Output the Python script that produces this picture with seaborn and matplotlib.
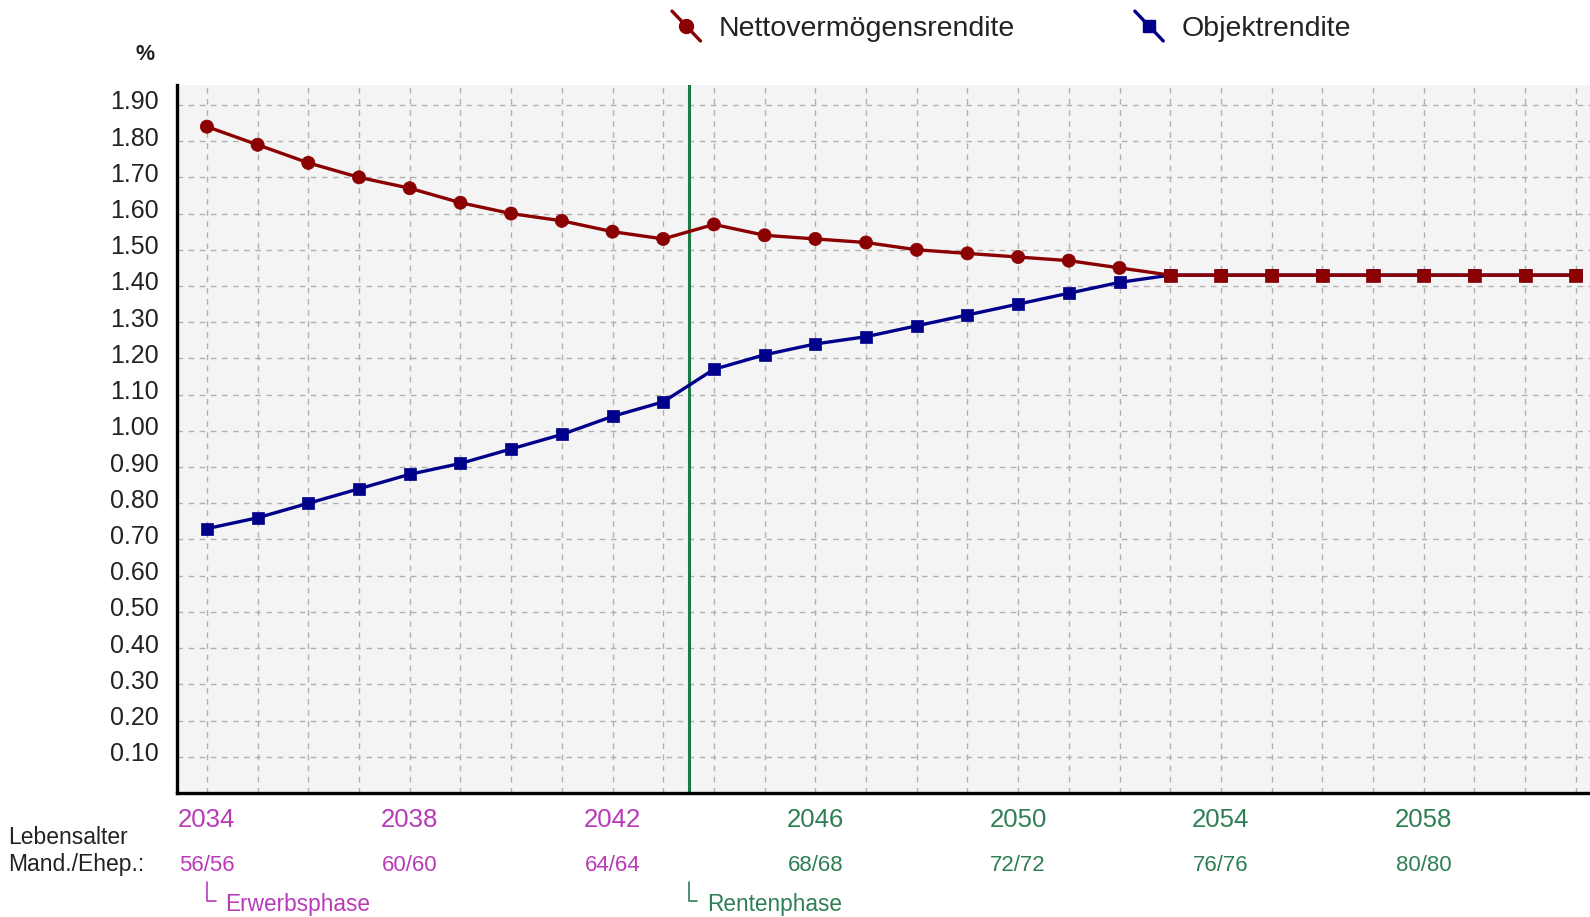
import matplotlib
matplotlib.use("Agg")
import matplotlib.pyplot as plt
import seaborn as sns
import pandas as pd
import numpy as np
from matplotlib.lines import Line2D
from matplotlib.legend_handler import HandlerLine2D
from matplotlib.transforms import ScaledTranslation, blended_transform_factory

# ---------------- data ----------------
years = list(range(2034, 2062))
netto = [1.84, 1.79, 1.74, 1.70, 1.67, 1.63, 1.60, 1.58, 1.55, 1.53,
         1.57, 1.54, 1.53, 1.52, 1.50, 1.49, 1.48, 1.47, 1.45, 1.43,
         1.43, 1.43, 1.43, 1.43, 1.43, 1.43, 1.43, 1.43]
objekt = [0.73, 0.76, 0.80, 0.84, 0.88, 0.91, 0.95, 0.99, 1.04, 1.08,
          1.17, 1.21, 1.24, 1.26, 1.29, 1.32, 1.35, 1.38, 1.41, 1.43,
          1.43, 1.43, 1.43, 1.43, 1.43, 1.43, 1.43, 1.43]
label_years = [2034, 2038, 2042, 2046, 2050, 2054, 2058]
age_labels = ["56/56", "60/60", "64/64", "68/68", "72/72", "76/76", "80/80"]
y_ticks = [0.10, 0.20, 0.30, 0.40, 0.50, 0.60, 0.70, 0.80, 0.90, 1.00,
           1.10, 1.20, 1.30, 1.40, 1.50, 1.60, 1.70, 1.80, 1.90]
phase_names = ["Erwerbsphase", "Rentenphase"]
phase_starts = [2034, 2043.5]
retirement_year = 2043.5
series_names = ["Nettovermögensrendite", "Objektrendite"]

# ---------------- style ----------------
RED = "#8B0000"
BLUE = "#00008B"
GREEN_LINE = "#1E7A45"
MAGENTA = "#B93AB9"
GREEN_TXT = "#2F7F55"
TXT = "#222222"

sns.set_theme(style="white")
plt.rcParams["font.family"] = ["Liberation Sans", "DejaVu Sans"]

fig = plt.figure(figsize=(15.9, 9.17), dpi=100)
ax = fig.add_axes([177 / 1590, 1 - 793 / 917, 1 - 177 / 1590, (793 - 85) / 917])
ax.set_facecolor("#F4F4F4")

df = pd.DataFrame({"year": years, "netto": netto, "objekt": objekt})
df["mk_netto"] = np.where(np.isclose(df["netto"], df["objekt"]), "s", "o")

# Objektrendite (blue)
sns.lineplot(data=df, x="year", y="objekt", ax=ax, color=BLUE, lw=2.4, zorder=3)
sns.scatterplot(data=df, x="year", y="objekt", ax=ax, color=BLUE, marker="s",
                s=82, edgecolor=BLUE, linewidth=0.5, zorder=4, legend=False)
# Nettovermögensrendite (red)
sns.lineplot(data=df, x="year", y="netto", ax=ax, color=RED, lw=2.4, zorder=5)
sns.scatterplot(data=df, x="year", y="netto", style="mk_netto", markers={"o": "o", "s": "s"},
                ax=ax, color=RED, s=90, edgecolor=RED, linewidth=0.5, zorder=6, legend=False)

# retirement line
ax.axvline(retirement_year, color=GREEN_LINE, lw=2.2, zorder=2)

# axes limits / ticks
ax.set_xlim(2033.41, 2061.28)
ax.set_ylim(0, 1.955)
ax.set_xticks(label_years)
ax.set_xticks(years, minor=True)
ax.set_yticks(y_ticks)
ax.set_yticklabels([f"{v:.2f}" for v in y_ticks])
ax.set_xlabel("")
ax.set_ylabel("")

ax.grid(True, which="both", axis="x", color="#B0B0B0", ls=(0, (4, 4)), lw=1.0, zorder=1)
ax.grid(True, which="major", axis="y", color="#B0B0B0", ls=(0, (4, 4)), lw=1.0, zorder=1)
ax.set_axisbelow(True)

ax.tick_params(axis="both", which="both", length=0)
ax.tick_params(axis="y", labelsize=18, labelcolor=TXT, pad=13)
ax.tick_params(axis="x", labelsize=18.5, pad=11)
offset = ScaledTranslation(0, 5 / 100, fig.dpi_scale_trans)
for lab in ax.get_yticklabels():
    lab.set_transform(lab.get_transform() + offset)
for lab, yr in zip(ax.get_xticklabels(), label_years):
    lab.set_color(MAGENTA if yr < retirement_year else GREEN_TXT)

for side in ["top", "right"]:
    ax.spines[side].set_visible(False)
for side in ["left", "bottom"]:
    ax.spines[side].set_color("black")
    ax.spines[side].set_linewidth(2.4)

# age labels
btr = blended_transform_factory(ax.transData, ax.transAxes)
for yr, lab in zip(label_years, age_labels):
    ax.text(yr, -0.1017, lab, transform=btr, ha="center", va="center", fontsize=16,
            color=MAGENTA if yr < retirement_year else GREEN_TXT, clip_on=False)

fig.text(8 / 1590, 1 - 838 / 917, "Lebensalter", fontsize=16.5, color=TXT, va="center", ha="left")
fig.text(8 / 1590, 1 - 865 / 917, "Mand./Ehep.:", fontsize=16.5, color=TXT, va="center", ha="left")

# phase markers
for start, name in zip(phase_starts, phase_names):
    col = MAGENTA if start < retirement_year else GREEN_TXT
    ax.plot([start, start, start + 0.17], [-0.125, -0.153, -0.153], transform=btr,
            color=col, lw=1.2, clip_on=False)
    ax.text(start + 0.36, -0.157, name, transform=btr, ha="left", va="center",
            fontsize=16.3, color=col, clip_on=False)

# percent sign
fig.text(145 / 1590, 1 - 54 / 917, "%", fontsize=15.5, fontweight="bold", color=TXT,
         ha="center", va="center")


# legend with diagonal handles
class DiagHandler(HandlerLine2D):
    def create_artists(self, legend, orig_handle, xdescent, ydescent, width, height,
                       fontsize, trans):
        x0, x1 = -xdescent, -xdescent + width
        y0, y1 = -ydescent + height * 1.25, -ydescent - height * 0.25
        ln = Line2D([x0, x1], [y0, y1], color=orig_handle.get_color(), lw=2.4)
        mk = Line2D([(x0 + x1) / 2], [(y0 + y1) / 2], marker=orig_handle.get_marker(),
                    ms=orig_handle.get_markersize(), color=orig_handle.get_color(),
                    linestyle="none")
        ln.set_transform(trans)
        mk.set_transform(trans)
        return [ln, mk]


handles = [Line2D([], [], color=RED, marker="o", ms=10),
           Line2D([], [], color=BLUE, marker="s", ms=9)]
leg = fig.legend(handles, series_names, loc="center left",
                 bbox_to_anchor=(672 / 1590, 1 - 29 / 917), ncol=2, frameon=False,
                 fontsize=20.5, handlelength=1.0, handletextpad=0.65, columnspacing=4.2,
                 borderpad=0, borderaxespad=0,
                 handler_map={Line2D: DiagHandler()})
for t in leg.get_texts():
    t.set_color(TXT)

fig.savefig("out.png", dpi=100)
